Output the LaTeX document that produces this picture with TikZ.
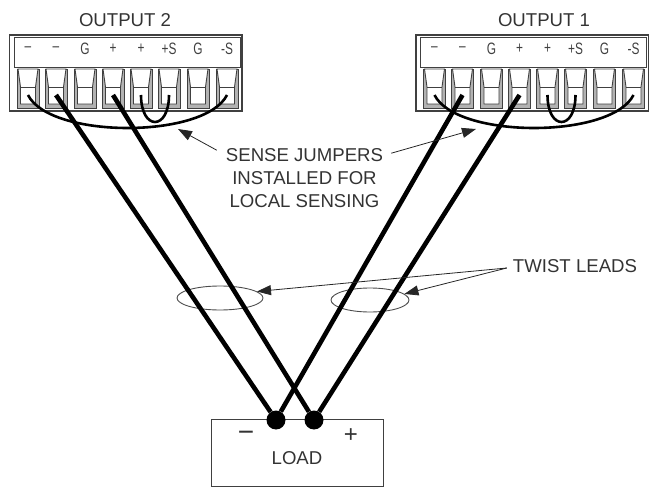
\documentclass[tikz,border=0pt]{standalone}
\usepackage{fontspec}
\setmainfont{Liberation Sans}
\usetikzlibrary{arrows.meta,shapes.geometric}
\tikzset{
  lead/.style={line width=4.6pt},
  jumper/.style={line width=2.6pt},
  callout/.style={line width=0.8pt,black!85,-{Triangle[length=14pt,width=10pt]}},
  hold/.style={line width=0.9pt,black!70},
  caption/.style={font=\fontsize{18.6}{23}\selectfont,text=black!80,inner sep=0pt},
  pinlabel/.style={font=\fontsize{16.5}{16.5}\selectfont,text=black!75,inner sep=0pt,xscale=0.72,transform shape},
  blockline/.style={line width=0.9pt,black!75},
  sign/.style={inner sep=0pt,text=black!80},
  dot/.style={circle,fill=black,minimum size=19pt,inner sep=0pt}
}
\begin{document}
\begin{tikzpicture}[x=1pt,y=-1pt]
    \useasboundingbox (0,0) rectangle (649,487);
    %
    % the two connector blocks
    \foreach \dx/\blockname in {0/two,406.5/one} {
      \begin{scope}[xshift=\dx pt]
        \draw[blockline,line width=1.3pt] (9.5,35) rectangle (242,111);
        \draw[blockline] (14,37) rectangle (240,67);
        \foreach \n/\pin/\x in {1/--/28,2/--/56,3/G/85,4/+/113,5/+/141,6/+S/169,7/G/198,8/-S/227} {
          \node[pinlabel] (\blockname-label-\n) at (\x,49) {\pin};
          \draw[blockline,fill=black!30] (\x-11,69) rectangle (\x+11,108);
          \draw[blockline,fill=white] (\x-10,69) -- (\x-7.5,87) -- (\x-7.5,104) -- (\x+7.5,104) -- (\x+7.5,87) -- (\x+10,69) -- cycle;
          \draw[blockline] (\x-7.5,87) -- (\x+7.5,87);
          \coordinate (\blockname-pin-\n) at (\x,95);
        }
      \end{scope}
    }
    %
    % load
    \draw[blockline] (211,419) rectangle (383,486);
    \node[caption] (loadtext) at (297,458) {LOAD};
    \node[sign,font=\fontsize{28}{28}\selectfont] (minus) at (246,436) {\textminus};
    \node[sign,font=\fontsize{24}{24}\selectfont] (plus) at (351,436) {+};
    \node[dot] (neg) at (276,420) {};
    \node[dot] (pos) at (314,420) {};
    %
    % twist ellipses under the leads
    \node[draw,hold,ellipse,minimum width=86pt,minimum height=24pt,inner sep=0pt] (twistA) at (220,298) {};
    \node[draw,hold,ellipse,minimum width=78pt,minimum height=24pt,inner sep=0pt] (twistB) at (370,300) {};
    %
    % leads
    \draw[lead] (two-pin-2) -- (neg);
    \draw[lead] (two-pin-4) -- (pos);
    \draw[lead] (one-pin-2) -- (neg);
    \draw[lead] (one-pin-4) -- (pos);
    %
    % jumpers
    \foreach \blockname in {two,one} {
      \draw[jumper] (\blockname-pin-1) .. controls ([xshift=22pt,yshift=-44pt]\blockname-pin-1) and ([xshift=-22pt,yshift=-44pt]\blockname-pin-8) .. (\blockname-pin-8);
      \draw[jumper] (\blockname-pin-5) .. controls ([yshift=-36pt]\blockname-pin-5) and ([yshift=-36pt]\blockname-pin-6) .. (\blockname-pin-6);
    }
    %
    \node[caption] (outB) at (125,20) {OUTPUT 2};
    \node[caption] (outA) at (544,20) {OUTPUT 1};
    \node[caption,align=center] (sense) at (304.5,178) {SENSE JUMPERS\\INSTALLED FOR\\LOCAL SENSING};
    \node[caption] (twist) at (575,266) {TWIST LEADS};
    %
    \coordinate (senseL) at (178,129);
    \coordinate (senseR) at (476,129);
    \draw[callout] (sense.north west) ++(-9,2) -- (senseL);
    \draw[callout] (sense.north east) ++(8,5) -- (senseR);
    \draw[callout] (twist.west) ++(-6,2) -- (twistA.10);
    \draw[callout] (twist.west) ++(-6,2) -- (twistB.10);
\end{tikzpicture}
\end{document}
